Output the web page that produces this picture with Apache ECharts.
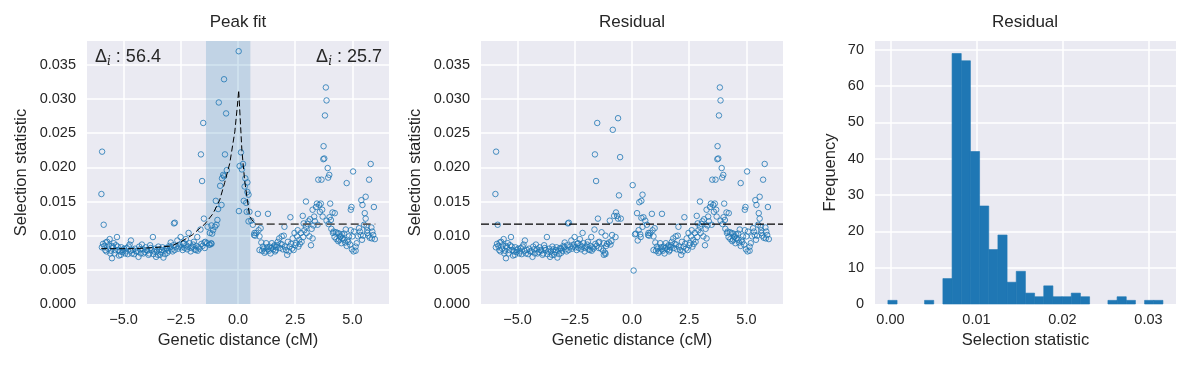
<!DOCTYPE html>
<html><head><meta charset="utf-8">
<script src="https://cdn.jsdelivr.net/npm/echarts@6/dist/echarts.min.js"></script>
<style>html,body{margin:0;padding:0;background:#fff}#c{width:1191px;height:368px}</style>
</head><body><div id="c"></div>
<script>
// ---------------- DATA ----------------
const panelTitles = ['Peak fit', 'Residual', 'Residual'];
const xNames = ['Genetic distance (cM)', 'Genetic distance (cM)', 'Selection statistic'];
const yNames = ['Selection statistic', 'Selection statistic', 'Frequency'];
const deltaLeft = '56.4';
const deltaRight = '25.7';

// points outside the peak window: [position cM, selection statistic] (residual equals statistic)
const outsidePoints = [
[-5.94,0.0223],[-5.97,0.0161],[-5.87,0.0116],
[-5.84,0.0085],[-5.72,0.0091],[-5.61,0.0095],[-5.51,0.0085],[-5.43,0.0089],[-5.29,0.0098],[-5.75,0.0077],[-5.58,0.0074],
[-5.51,0.0067],[-5.36,0.0079],[-5.26,0.0084],[-5.17,0.0077],[-5.12,0.0072],[-5.03,0.0079],[-4.93,0.0074],[-4.86,0.0082],
[-4.74,0.0087],[-4.68,0.0093],[-4.59,0.0079],[-4.54,0.0073],[-4.45,0.0077],[-4.35,0.0069],[-4.28,0.0080],[-4.20,0.0087],
[-4.13,0.0074],[-4.01,0.0079],[-3.91,0.0072],[-3.81,0.0082],[-3.72,0.0098],[-3.67,0.0077],[-3.58,0.0069],[-3.48,0.0084],
[-3.41,0.0072],[-3.33,0.0079],[-3.26,0.0068],[-3.14,0.0082],[-3.09,0.0075],[-3.00,0.0085],[-2.94,0.0090],[-2.86,0.0077],
[-2.80,0.0118],[-2.76,0.0119],[-2.65,0.0093],[-2.57,0.0084],[-2.51,0.0098],[-2.42,0.0079],[-2.36,0.0089],[-2.28,0.0095],
[-2.22,0.0080],[-2.16,0.0104],[-2.07,0.0077],[-1.99,0.0084],[-1.93,0.0091],[-1.84,0.0079],[-1.78,0.0098],[-1.72,0.0083],
[-1.64,0.0109],[-1.49,0.0125],[-1.43,0.0091],
[-5.95,0.0083],[-5.90,0.0088],[-5.80,0.0079],[-5.78,0.0090],[-5.68,0.0081],[-5.65,0.0086],[-5.55,0.0078],[-5.47,0.0083],
[-5.40,0.0074],[-5.33,0.0086],[-5.22,0.0079],[-5.20,0.0071],[-5.10,0.0083],[-5.06,0.0076],[-4.98,0.0081],[-4.90,0.0077],
[-4.82,0.0073],[-4.78,0.0084],[-4.70,0.0078],[-4.64,0.0074],[-4.50,0.0081],[-4.40,0.0077],[-4.32,0.0084],[-4.25,0.0074],
[-4.16,0.0080],[-4.08,0.0076],[-4.04,0.0083],[-3.96,0.0078],[-3.88,0.0074],[-3.84,0.0086],[-3.77,0.0079],[-3.70,0.0073],
[-3.62,0.0081],[-3.54,0.0077],[-3.50,0.0072],[-3.44,0.0080],[-3.37,0.0076],[-3.30,0.0083],[-3.22,0.0078],[-3.18,0.0073],
[-3.10,0.0081],[-3.05,0.0078],[-2.97,0.0083],[-2.90,0.0080],[-2.83,0.0086],[-2.77,0.0079],[-2.70,0.0084],[-2.62,0.0081],
[-2.55,0.0087],[-2.47,0.0083],[-2.40,0.0088],[-2.33,0.0082],[-2.26,0.0086],[-2.18,0.0084],[-2.12,0.0089],[-2.04,0.0082],
[-1.96,0.0087],[-1.90,0.0080],[-1.82,0.0085],[-1.76,0.0078],[-1.69,0.0081],[-1.60,0.0088],[-1.55,0.0085],[-1.47,0.0090],
[-1.45,0.0082],[-1.52,0.0265],[-1.62,0.0219],[-1.57,0.0180],
[0.58,0.0122],[0.65,0.0116],[0.70,0.0101],[0.75,0.0100],[0.72,0.0104],[0.80,0.0104],[0.90,0.0108],[0.99,0.0111],[0.87,0.0132],
[1.31,0.0132],[0.94,0.0099],[1.02,0.0090],[0.94,0.0079],[1.09,0.0084],[1.16,0.0075],[1.23,0.0089],[1.31,0.0080],
[1.38,0.0084],[1.42,0.0074],[1.48,0.0089],[1.54,0.0080],[1.60,0.0086],[1.62,0.0077],[1.68,0.0083],[1.74,0.0091],
[1.80,0.0096],[1.86,0.0088],[1.91,0.0099],[1.96,0.0080],[2.00,0.0100],[2.06,0.0084],[2.03,0.0113],[2.15,0.0072],
[2.18,0.0091],[2.25,0.0084],[2.29,0.0127],[2.32,0.0088],[2.39,0.0096],[2.43,0.0079],[2.47,0.0104],[2.54,0.0089],
[2.58,0.0099],[2.61,0.0108],[2.64,0.0084],[2.68,0.0094],[2.75,0.0104],[2.78,0.0091],[2.83,0.0129],[2.87,0.0118],
[2.90,0.0108],[2.97,0.0150],[2.97,0.0113],[3.04,0.0117],[3.12,0.0099],[3.19,0.0086],[3.26,0.0096],[3.26,0.0138],
[3.33,0.0128],[3.36,0.0121],[3.41,0.0142],[3.45,0.0147],[3.51,0.0182],
[1.05,0.0078],[1.12,0.0081],[1.20,0.0077],[1.27,0.0083],[1.35,0.0078],[1.45,0.0082],[1.57,0.0084],[1.65,0.0079],
[1.72,0.0086],[1.83,0.0082],[1.93,0.0087],[2.10,0.0079],[2.22,0.0077],[2.36,0.0081],[2.50,0.0086],[2.70,0.0088],
[2.85,0.0098],[3.00,0.0104],[3.08,0.0121],[3.15,0.0124],[3.22,0.0110],[3.30,0.0115],
[3.84,0.0317],[3.87,0.0298],[3.80,0.0276],[3.74,0.0231],[3.73,0.0212],[3.77,0.0213],[3.92,0.0199],[3.65,0.0182],
[3.99,0.0189],[3.94,0.0185],[3.55,0.0145],[3.62,0.0147],[3.48,0.0116],[4.03,0.0147],[4.13,0.0134],[4.23,0.0133],
[4.06,0.0123],[4.18,0.0106],[4.28,0.0105],[4.35,0.0104],[4.43,0.0103],[4.50,0.0099],[4.57,0.0096],[4.42,0.0094],
[4.52,0.0089],[4.64,0.0103],[4.71,0.0109],[4.75,0.0177],[4.78,0.0094],[4.85,0.0099],[4.93,0.0138],[4.96,0.0142],
[5.03,0.0194],[5.07,0.0106],[5.14,0.0084],[5.14,0.0078],[5.19,0.0089],[5.25,0.0099],[5.33,0.0106],[5.39,0.0152],
[5.44,0.0145],[5.51,0.0116],[5.58,0.0157],[5.54,0.0133],[5.58,0.0125],[5.62,0.0113],[5.65,0.0108],[5.73,0.0182],
[5.80,0.0205],[5.83,0.0112],[5.87,0.0106],[5.91,0.0101],[5.94,0.0142],[5.98,0.0095],[5.29,0.0111],[5.36,0.0101],
[5.65,0.0104],[4.93,0.0108],[5.00,0.0099],
[3.58,0.0135],[3.68,0.0138],[3.70,0.0128],[3.87,0.0122],[3.96,0.0117],[4.00,0.0127],
[4.08,0.0110],[4.15,0.0104],[4.22,0.0098],[4.30,0.0095],[4.38,0.0092],[4.46,0.0098],[4.55,0.0102],[4.62,0.0094],
[4.68,0.0090],[4.75,0.0085],[4.82,0.0091],[4.90,0.0087],[4.98,0.0080],[5.05,0.0077],
[5.70,0.0100],[5.76,0.0097],[5.85,0.0096],[5.47,0.0100],[5.42,0.0094]
];

// points inside the peak window: [position cM, selection statistic, residual]
const peakPoints = [
[-1.35,0.0089,0.0081],[-1.26,0.0087,0.0078],[-1.17,0.0089,0.0075],[-1.33,0.0113,0.0105],[-1.16,0.0115,0.0100],
[-1.01,0.0113,0.0090],[-1.09,0.0108,0.0088],[-1.23,0.0104,0.0089],[-1.13,0.0103,0.0085],[-0.94,0.0116,0.0087],
[-1.23,0.0087,0.0072],[-1.16,0.0088,0.0073],[-0.90,0.0123,0.0092],[-0.97,0.0151,0.0122],[-0.87,0.0139,0.0101],
[-0.78,0.0173,0.0129],[-0.72,0.0145,0.0098],[-0.70,0.0184,0.0134],[-0.65,0.0189,0.0129],[-0.61,0.0187,0.0125],
[-0.61,0.0329,0.0272],[-0.84,0.0295,0.0255],[-0.52,0.0279,0.0215],[-0.57,0.0219,0.0159],[-0.49,0.0196,0.0125],
[0.03,0.0370,0.0174],[0.04,0.0136,-0.0001],[0.13,0.0222,0.0102],[0.07,0.0202,0.0049],[0.22,0.0205,0.0133],
[0.17,0.0197,0.0103],[0.25,0.0151,0.0093],[0.29,0.0172,0.0108],[0.32,0.0184,0.0149],[0.36,0.0148,0.0102],
[0.38,0.0135,0.0098],[0.41,0.0178,0.0151],[0.41,0.0164,0.0126],[0.46,0.0160,0.0160],[0.46,0.0121,0.0113],
[0.50,0.0135,0.0127]
];

// fitted peak curve [position, value]
const fitCurve = [
[-5.98,0.0081],[-4.5,0.0081],[-3.5,0.0083],[-2.9,0.0085],[-2.4,0.0093],[-2.0,0.0101],[-1.7,0.0110],[-1.45,0.0117],
[-1.1,0.0132],[-0.8,0.0152],[-0.58,0.0178],[-0.36,0.0206],[-0.14,0.0252],[-0.03,0.0289],[0.03,0.0313],
[0.17,0.0225],[0.29,0.0181],[0.51,0.0128],[0.73,0.0118]
];
const baseline = 0.0117;
const flatRange = [0.73, 6.0];
const peakWindow = [-1.40, 0.54];

// histogram of residuals
const histMin = -0.0003;
const histWidth = 0.001066;
const histCounts = [1,0,0,0,1,0,7,69,67,42,27,15,19,6,9,3,2,5,2,2,3,2,0,0,1,2,1,0,1,1];

// ---------------- CHART ----------------
const FONT = '"Liberation Sans", Arial, sans-serif';
const TXT = '#262626';
const chart = echarts.init(document.getElementById('c'), null, {renderer: 'canvas'});

const leftData = outsidePoints.concat(peakPoints.map(p => [p[0], p[1]]));
const midData = outsidePoints.concat(peakPoints.map(p => [p[0], p[2]]));
const histData = histCounts.map((c, i) => [histMin + i * histWidth, histMin + (i + 1) * histWidth, c]);
const xLimCM = [-6.6, 6.6];

const grids = [
  {left: 87, top: 41, width: 302, height: 263},
  {left: 481, top: 41, width: 302, height: 263},
  {left: 875, top: 41, width: 301, height: 263}
].map(g => Object.assign(g, {show: true, backgroundColor: '#EAEAF2', borderWidth: 0, containLabel: false}));

const split = {show: true, showMinLine: false, showMaxLine: false, lineStyle: {color: '#ffffff', width: 1.5}};
const minus = s => s.replace('-', '\u2212');

function xAxisCM(gi) {
  return {
    type: 'value', gridIndex: gi, min: xLimCM[0], max: xLimCM[1], minInterval: 2.5, maxInterval: 2.5,
    axisLine: {show: false}, axisTick: {show: false}, splitLine: split,
    axisLabel: {color: TXT, fontFamily: FONT, fontSize: 14.5, margin: 8, showMinLabel: false, showMaxLabel: false,
      formatter: v => minus(v.toFixed(1))},
    name: xNames[gi], nameLocation: 'middle', nameGap: 28,
    nameTextStyle: {color: TXT, fontFamily: FONT, fontSize: 16.5}
  };
}
function yAxisStat(gi) {
  return {
    type: 'value', gridIndex: gi, min: 0, max: 0.0385, interval: 0.005,
    axisLine: {show: false}, axisTick: {show: false}, splitLine: split,
    axisLabel: {color: TXT, fontFamily: FONT, fontSize: 14.5, margin: 11, showMaxLabel: false,
      formatter: v => v.toFixed(3)},
    name: yNames[gi], nameLocation: 'middle', nameGap: 57,
    nameTextStyle: {color: TXT, fontFamily: FONT, fontSize: 16.5}
  };
}

const scatterStyle = {color: 'rgba(0,0,0,0)', borderColor: '#1f77b4', borderWidth: 1};
const titleFont = '17px ' + FONT;

const option = {
  animation: false,
  backgroundColor: '#ffffff',
  grid: grids,
  xAxis: [
    xAxisCM(0), xAxisCM(1),
    {
      type: 'value', gridIndex: 2, min: -0.0018, max: 0.0332, minInterval: 0.01, maxInterval: 0.01,
      axisLine: {show: false}, axisTick: {show: false}, splitLine: split,
      axisLabel: {color: TXT, fontFamily: FONT, fontSize: 14.5, margin: 8, showMinLabel: false, showMaxLabel: false,
        formatter: v => v.toFixed(2)},
      name: xNames[2], nameLocation: 'middle', nameGap: 28,
      nameTextStyle: {color: TXT, fontFamily: FONT, fontSize: 16.5}
    }
  ],
  yAxis: [
    yAxisStat(0), yAxisStat(1),
    {
      type: 'value', gridIndex: 2, min: 0, max: 72.45, interval: 10,
      axisLine: {show: false}, axisTick: {show: false}, splitLine: split,
      axisLabel: {color: TXT, fontFamily: FONT, fontSize: 14.5, margin: 11, showMaxLabel: false},
      name: yNames[2], nameLocation: 'middle', nameGap: 36,
      nameTextStyle: {color: TXT, fontFamily: FONT, fontSize: 16.5}
    }
  ],
  series: [
    {
      type: 'scatter', xAxisIndex: 0, yAxisIndex: 0, data: leftData,
      symbol: 'circle', symbolSize: 5.5, itemStyle: scatterStyle, z: 3,
      markArea: {silent: true, itemStyle: {color: 'rgba(31,119,180,0.2)'}, label: {show: false},
        data: [[{xAxis: peakWindow[0]}, {xAxis: peakWindow[1]}]]}
    },
    {
      type: 'line', xAxisIndex: 0, yAxisIndex: 0, data: fitCurve, symbol: 'none', z: 4,
      lineStyle: {color: '#000000', width: 1, type: [6, 3]}
    },
    {
      type: 'line', xAxisIndex: 0, yAxisIndex: 0, data: [[flatRange[0], baseline], [flatRange[1], baseline]],
      symbol: 'none', z: 4, lineStyle: {color: '#5a5a5a', width: 1.6, type: [8, 4]}
    },
    {
      type: 'scatter', xAxisIndex: 1, yAxisIndex: 1, data: midData,
      symbol: 'circle', symbolSize: 5.5, itemStyle: scatterStyle, z: 3
    },
    {
      type: 'line', xAxisIndex: 1, yAxisIndex: 1, data: [[xLimCM[0], baseline], [xLimCM[1], baseline]],
      symbol: 'none', z: 4, lineStyle: {color: '#000000', width: 1.2, type: [8, 3]}
    },
    {
      type: 'custom', xAxisIndex: 2, yAxisIndex: 2, data: histData,
      encode: {x: [0, 1], y: 2},
      renderItem: (params, api) => {
        if (!api.value(2)) return null;
        const p0 = api.coord([api.value(0), api.value(2)]);
        const p1 = api.coord([api.value(1), 0]);
        return {type: 'rect', shape: {x: p0[0], y: p0[1], width: p1[0] - p0[0], height: p1[1] - p0[1]},
          style: {fill: '#1f77b4', stroke: '#1f77b4', lineWidth: 0.6}};
      }
    }
  ],
  graphic: [
    {type: 'text', x: 238, y: 22, style: {text: panelTitles[0], fill: TXT, font: titleFont, align: 'center', verticalAlign: 'middle'}},
    {type: 'text', x: 632, y: 22, style: {text: panelTitles[1], fill: TXT, font: titleFont, align: 'center', verticalAlign: 'middle'}},
    {type: 'text', x: 1025, y: 22, style: {text: panelTitles[2], fill: TXT, font: titleFont, align: 'center', verticalAlign: 'middle'}},
    {type: 'text', x: 95, y: 57, z: 10, style: {
      text: '{d|\u0394}{s|i}{d| : ' + deltaLeft + '}', align: 'left', verticalAlign: 'middle',
      rich: {d: {fontSize: 18, fontFamily: FONT, fill: TXT, lineHeight: 22},
             s: {fontSize: 12, fontFamily: 'DejaVu Serif, serif', fontStyle: 'italic', fill: TXT, lineHeight: 12, verticalAlign: 'bottom'}}}},
    {type: 'text', x: 382, y: 57, z: 10, style: {
      text: '{d|\u0394}{s|i}{d| : ' + deltaRight + '}', align: 'right', verticalAlign: 'middle',
      rich: {d: {fontSize: 18, fontFamily: FONT, fill: TXT, lineHeight: 22},
             s: {fontSize: 12, fontFamily: 'DejaVu Serif, serif', fontStyle: 'italic', fill: TXT, lineHeight: 12, verticalAlign: 'bottom'}}}}
  ]
};
chart.setOption(option);
</script></body></html>
